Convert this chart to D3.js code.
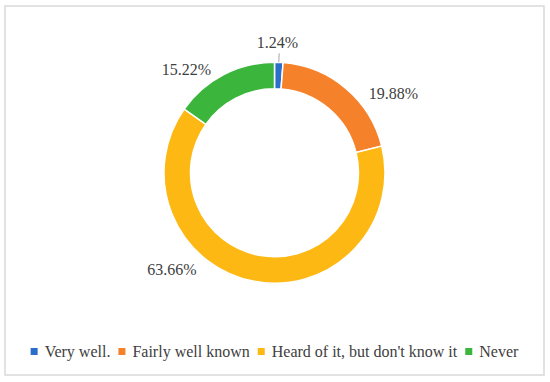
<!DOCTYPE html>
<html>
<head>
<meta charset="utf-8">
<script src="https://cdn.jsdelivr.net/npm/d3@7"></script>
<style>
  html, body { margin: 0; padding: 0; background: #fff; }
  svg { display: block; }
</style>
</head>
<body>
<div id="chart"></div>
<script>
// Data
const categories = ["Very well.", "Fairly well known", "Heard of it, but don't know it", "Never"];
const values = [1.24, 19.88, 63.66, 15.22];
const valueLabels = ["1.24%", "19.88%", "63.66%", "15.22%"];
const colors = ["#2a6fc9", "#f5822a", "#fdb813", "#3bb53b"];

const width = 550;
const height = 382;
const cx = 274.5;
const cy = 172.75;
const outerR = 110.5;
const innerR = 84;

// label anchors relative to the doughnut centre (placed by hand in the original)
const labelOffsets = [
  { dx: 3, dy: -125 },
  { dx: 119, dy: -74 },
  { dx: -102.5, dy: 102 },
  { dx: -88, dy: -98 }
];

const svg = d3.select("#chart")
  .append("svg")
  .attr("width", width)
  .attr("height", height)
  .attr("font-family", "Liberation Serif")
  .attr("font-size", 16);

// outer frame
svg.append("rect")
  .attr("x", 5)
  .attr("y", 6)
  .attr("width", 539)
  .attr("height", 369)
  .attr("fill", "#fff")
  .attr("stroke", "#d9d9d9")
  .attr("stroke-width", 1.5);

const pie = d3.pie().sort(null).value(d => d);
const arcs = pie(values);

const arc = d3.arc()
  .innerRadius(innerR)
  .outerRadius(outerR);

const g = svg.append("g")
  .attr("transform", `translate(${cx},${cy})`);

g.selectAll("path")
  .data(arcs)
  .join("path")
  .attr("d", arc)
  .attr("fill", (d, i) => colors[i])
  .attr("stroke", "#fff")
  .attr("stroke-width", 1.5);

// leader line for the tiny slice
const tiny = arcs[0];
const midA = (tiny.startAngle + tiny.endAngle) / 2;
g.append("line")
  .attr("x1", Math.sin(midA) * outerR)
  .attr("y1", -Math.cos(midA) * outerR)
  .attr("x2", Math.sin(midA) * (outerR + 9))
  .attr("y2", -Math.cos(midA) * (outerR + 9))
  .attr("stroke", "#a6a6a6")
  .attr("stroke-width", 1);

g.selectAll("text.lbl")
  .data(arcs)
  .join("text")
  .attr("class", "lbl")
  .attr("x", (d, i) => labelOffsets[i].dx)
  .attr("y", (d, i) => labelOffsets[i].dy)
  .attr("text-anchor", "middle")
  .attr("font-family", "Liberation Serif")
  .attr("font-size", 16)
  .attr("fill", "#404040")
  .text((d, i) => valueLabels[i]);

// legend
const legend = svg.append("g")
  .attr("transform", "translate(0, 357)");

const items = legend.selectAll("g")
  .data(categories)
  .join("g");

items.append("rect")
  .attr("y", -9)
  .attr("width", 7)
  .attr("height", 7)
  .attr("fill", (d, i) => colors[i]);

items.append("text")
  .attr("x", 14)
  .attr("y", 0)
  .attr("font-family", "Liberation Serif")
  .attr("font-size", 16)
  .attr("fill", "#404040")
  .text(d => d);

const widths = [];
items.each(function() {
  widths.push(14 + d3.select(this).select("text").node().getComputedTextLength());
});
const gap = 8;
const total = d3.sum(widths) + gap * (widths.length - 1);
let x = cx - total / 2;
items.attr("transform", (d, i) => {
  const t = `translate(${x},0)`;
  x += widths[i] + gap;
  return t;
});
</script>
</body>
</html>
